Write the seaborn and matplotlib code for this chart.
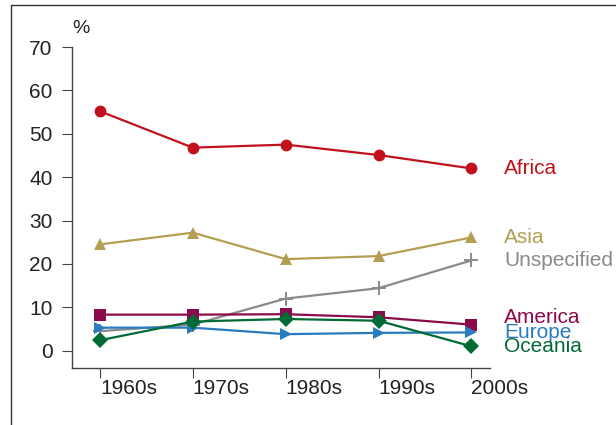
import pandas as pd
import matplotlib.pyplot as plt
import seaborn as sns
from matplotlib.lines import Line2D

decades = ["1960s", "1970s", "1980s", "1990s", "2000s"]
regions = ["Africa", "Asia", "Unspecified", "America", "Europe", "Oceania"]
africa = [55.2, 46.8, 47.5, 45.1, 42.0]
asia = [24.5, 27.2, 21.1, 21.8, 26.1]
unspecified = [4.5, 6.0, 12.0, 14.4, 20.8]
america = [8.3, 8.3, 8.4, 7.7, 6.0]
europe = [5.3, 5.3, 3.8, 4.1, 4.2]
oceania = [2.4, 6.7, 7.3, 6.9, 1.0]

colors = {"Africa": "#c1121c", "Asia": "#b39f52", "Unspecified": "#8a8a8c",
          "America": "#8c0a4b", "Europe": "#2b7bbf", "Oceania": "#006b35"}
markers = {"Africa": "o", "Asia": "^", "Unspecified": "+", "America": "s",
           "Europe": ">", "Oceania": "D"}
# vertical nudge for the end labels (the reference stacks them tightly)
nudge = {"Africa": 0, "Asia": 0, "Unspecified": 0, "America": 1.6,
         "Europe": 0, "Oceania": 0}

values = [africa, asia, unspecified, america, europe, oceania]
rows = []
for r, v in zip(regions, values):
    for d, y in zip(decades, v):
        rows.append({"decade": d, "region": r, "pct": y})
df = pd.DataFrame(rows)

sns.set_style("ticks")
plt.rcParams["font.family"] = ["Liberation Sans", "DejaVu Sans"]

fig = plt.figure(figsize=(6.16, 4.25), dpi=100)
ax = fig.add_axes([0.1169, 0.1341, 0.6786, 0.7553])

for r in regions:
    sub = df[df["region"] == r]
    m = markers[r]
    if m == "+":
        sns.lineplot(data=sub, x="decade", y="pct", color=colors[r], marker="+",
                     markersize=10, markeredgewidth=1.4, markeredgecolor=colors[r],
                     linewidth=1.6, ax=ax, legend=False, sort=False)
    else:
        sns.lineplot(data=sub, x="decade", y="pct", color=colors[r], marker=m,
                     markersize=8.5 if m != "D" else 8, markeredgewidth=0,
                     linewidth=1.6, ax=ax, legend=False, sort=False)

for r, v in zip(regions, values):
    ax.text(4.35, v[-1] + nudge[r], r, color=colors[r], fontsize=15,
            va="center", ha="left", clip_on=False)

ax.set_xlim(-0.3, 4.2)
ax.set_ylim(-4, 70)
ax.set_yticks(range(0, 71, 10))
ax.set_xlabel("")
ax.set_ylabel("")
ax.text(0.0, 1.03, "%", transform=ax.transAxes, fontsize=14, ha="left",
        va="bottom", color="#222222")

for s in ["top", "right"]:
    ax.spines[s].set_visible(False)
for s in ["left", "bottom"]:
    ax.spines[s].set_color("#444444")
    ax.spines[s].set_linewidth(1.0)
ax.tick_params(axis="y", length=7, width=0.8, color="#444444", pad=7,
               labelsize=15, labelcolor="#222222")
ax.tick_params(axis="x", length=7, width=0.8, color="#444444", pad=1,
               labelsize=15, labelcolor="#222222")
for lab in ax.get_xticklabels():
    lab.set_horizontalalignment("left")

# panel frame (top and left edge)
fig.add_artist(Line2D([11 / 616, 1], [1 - 5 / 425, 1 - 5 / 425],
                      color="#333333", lw=1, transform=fig.transFigure))
fig.add_artist(Line2D([11 / 616, 11 / 616], [0, 1 - 5 / 425],
                      color="#333333", lw=1, transform=fig.transFigure))

fig.savefig("out.png", dpi=100)
